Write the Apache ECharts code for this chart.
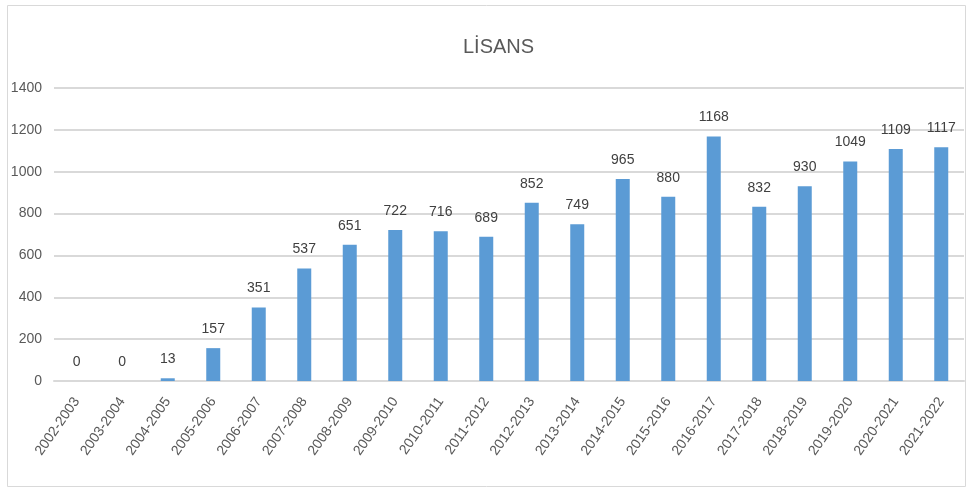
<!DOCTYPE html>
<html>
<head>
<meta charset="utf-8">
<script src="https://cdn.jsdelivr.net/npm/echarts@6/dist/echarts.min.js"></script>
<style>
  html, body { margin: 0; padding: 0; background: #fff; }
  #chart { width: 970px; height: 490px; }
</style>
</head>
<body>
<div id="chart"></div>
<script>
const years = ['2002-2003', '2003-2004', '2004-2005', '2005-2006', '2006-2007', '2007-2008',
  '2008-2009', '2009-2010', '2010-2011', '2011-2012', '2012-2013', '2013-2014', '2014-2015',
  '2015-2016', '2016-2017', '2017-2018', '2018-2019', '2019-2020', '2020-2021', '2021-2022'];
const lisans = [0, 0, 13, 157, 351, 537, 651, 722, 716, 689, 852, 749, 965, 880, 1168, 832, 930, 1049, 1109, 1117];

const font = '"Liberation Sans", sans-serif';
const chart = echarts.init(document.getElementById('chart'));
chart.setOption({
  animation: false,
  title: {
    text: 'LİSANS',
    left: 458,
    top: 32,
    textStyle: { fontFamily: font, fontSize: 20, fontWeight: 'normal', color: '#595959' }
  },
  graphic: [{
    type: 'rect',
    shape: { x: 7.5, y: 5.5, width: 958, height: 481 },
    style: { fill: 'none', stroke: '#d9d9d9', lineWidth: 1 },
    silent: true
  }],
  grid: { left: 54, right: 6, top: 88, bottom: 109 },
  xAxis: {
    type: 'category',
    data: years,
    axisLine: { lineStyle: { color: '#d9d9d9', width: 2 } },
    axisTick: { show: false },
    axisLabel: {
      rotate: 55,
      interval: 0,
      margin: 18,
      fontFamily: font,
      fontSize: 14,
      color: '#595959'
    }
  },
  yAxis: {
    type: 'value',
    min: 0,
    max: 1400,
    interval: 200,
    axisLine: { show: false },
    axisTick: { show: false },
    splitLine: { lineStyle: { color: '#d9d9d9', width: 2 } },
    axisLabel: {
      margin: 12,
      formatter: function (v) { return String(v); },
      fontFamily: font,
      fontSize: 14,
      color: '#595959'
    }
  },
  series: [{
    type: 'bar',
    data: lisans,
    barWidth: 14,
    itemStyle: { color: '#5b9bd5' },
    label: {
      show: true,
      position: 'top',
      distance: 12,
      fontFamily: font,
      fontSize: 14,
      color: '#404040'
    }
  }]
});
</script>
</body>
</html>
